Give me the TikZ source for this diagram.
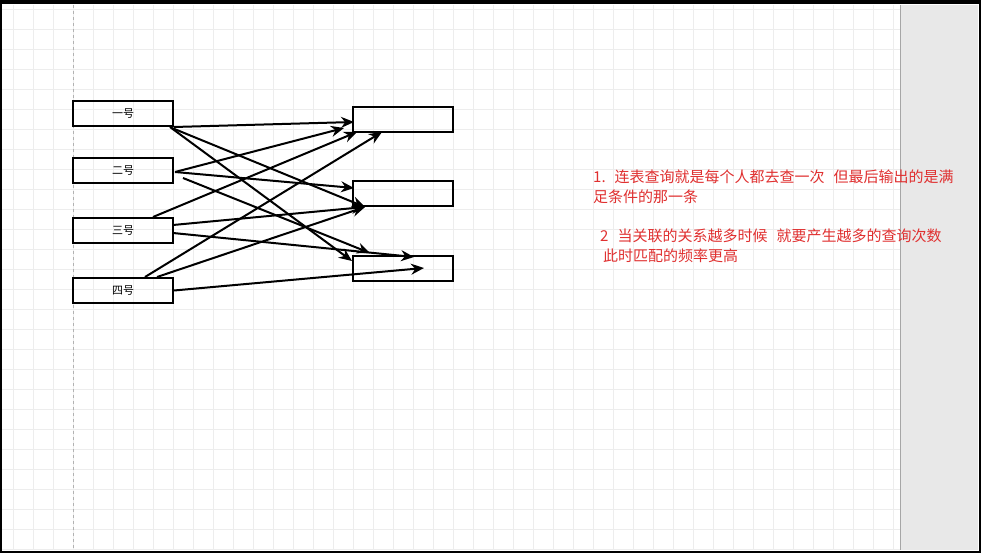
\documentclass[tikz,border=0pt]{standalone}
\usepackage{fontspec}
\newfontfamily\cjk{Noto Sans CJK SC}
\usetikzlibrary{arrows.meta}
\definecolor{gridgray}{HTML}{EDEDED}
\definecolor{panelgray}{HTML}{E8E8E8}
\definecolor{notered}{HTML}{E03030}
\tikzset{
    person/.style={draw, line width=2pt, minimum width=100pt, minimum height=25pt, inner sep=0pt, font=\cjk\fontsize{11}{11}\selectfont},
    result/.style={draw, line width=2pt, minimum width=100pt, minimum height=25pt, inner sep=0pt},
    link/.style={-{Stealth[length=13pt,width=11pt]}, line width=2pt},
    note/.style={anchor=west, text=notered, font=\cjk\fontsize{15}{16}\selectfont, inner sep=0pt}
}
\begin{document}
\begin{tikzpicture}[x=1pt, y=-1pt]
    \useasboundingbox (0,0) rectangle (981,553);
    % background and grid
    \fill[white] (0,0) rectangle (981,553);
    \foreach \gx in {13,33,...,893} \draw[gridgray, line width=0.8pt] (\gx,5) -- (\gx,550);
    \foreach \gy in {9,29,...,549} \draw[gridgray, line width=0.8pt] (2,\gy) -- (900,\gy);
    \draw[gray!60, dashed, line width=0.8pt] (73,5) -- (73,550);
    \fill[panelgray] (900,5) rectangle (978,550);
    \draw[gray!70, line width=0.8pt] (900,5) -- (900,550);
    \draw[black, line width=4pt] (0,0) rectangle (981,553);
    \draw[black, line width=8pt] (0,0) -- (981,0);

    % people
    \node[person] (one) at (123,113.5) {一号};
    \node[person] (two) at (123,170.5) {二号};
    \node[person] (three) at (123,230.5) {三号};
    \node[person] (four) at (123,290.5) {四号};

    % results
    \node[result] (ra) at (403,120) {};
    \node[result] (rb) at (403,193.5) {};
    \node[result] (rc) at (403,268.5) {};

    % start and end points
    \coordinate (s1a) at (170,127); \coordinate (s1b) at (172,128);
    \coordinate (s2a) at (175,172); \coordinate (s2b) at (183,178);
    \coordinate (s3a) at (153,217); \coordinate (s3b) at (173,225); \coordinate (s3c) at (173,233);
    \coordinate (s4a) at (145,277); \coordinate (s4b) at (157,277);
    \coordinate (ea1) at (354,122); \coordinate (ea2) at (344,128); \coordinate (ea3) at (357,132); \coordinate (ea4) at (382,132);
    \coordinate (eb1) at (354,188); \coordinate (eb2) at (365,207);
    \coordinate (ec1) at (352,261); \coordinate (ec2) at (370,253); \coordinate (ec3) at (414,257); \coordinate (ec4) at (424,268);

    \draw[link] (one.south east) -- (ea1);
    \draw[link] (s1a) -- (ec1);
    \draw[link] (s1b) -- (eb2);
    \draw[link] (s2a) -- (ea2);
    \draw[link] (s2a) -- (eb1);
    \draw[link] (s2b) -- (ec2);
    \draw[link] (s3a) -- (ea3);
    \draw[link] (s3b) -- (eb2);
    \draw[link] (s3c) -- (ec3);
    \draw[link] (s4a) -- (ea4);
    \draw[link] (s4b) -- (eb2);
    \draw[link] (four.east) -- (ec4);

    % notes
    \node[note] (n1) at (593,177) {1.\hspace{9pt}连表查询就是每个人都去查一次\hspace{9pt}但最后输出的是满};
    \node[note] (n2) at (593,197) {足条件的那一条};
    \node[note] (n3) at (600,236) {2\hspace{9pt}当关联的关系越多时候\hspace{9pt}就要产生越多的查询次数};
    \node[note] (n4) at (603,256) {此时匹配的频率更高};
\end{tikzpicture}
\end{document}
